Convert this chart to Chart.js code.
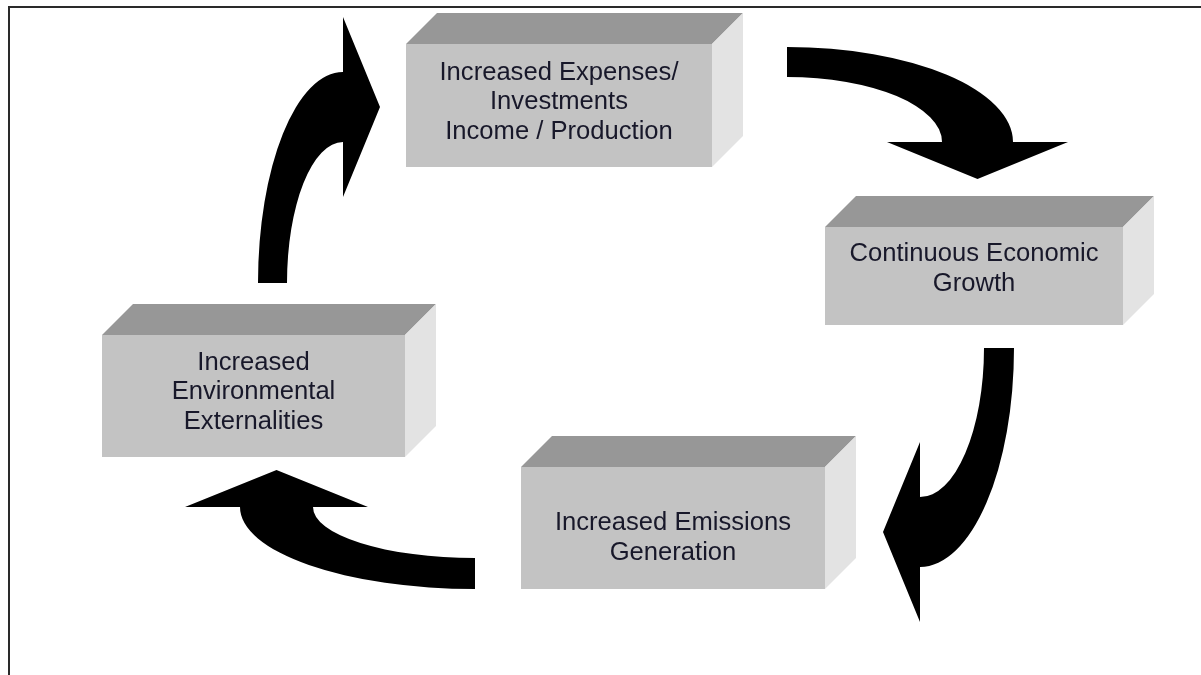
<!DOCTYPE html>
<html>
<head>
<meta charset="utf-8">
<script src="https://cdn.jsdelivr.net/npm/chart.js@4.4.1/dist/chart.umd.min.js"></script>
<style>
  html, body { margin: 0; padding: 0; background: #fff; }
  #wrap { width: 1201px; height: 675px; position: relative; }
</style>
</head>
<body>
<div id="wrap"><canvas id="cycleChart"></canvas></div>
<script>
// Stages of the cycle (label lines)
const stageLabels = [
    ['Increased Expenses/', 'Investments', 'Income / Production'],
    ['Continuous Economic', 'Growth'],
    ['Increased Emissions', 'Generation'],
    ['Increased', 'Environmental', 'Externalities']
];
// front face of each block, in the diagram's own units (0..1201 x 0..675)
const stageX = [559, 974, 673, 253.5];
const stageY = [105.5, 276, 528, 396];
const stageW = [306, 298, 304, 303];
const stageH = [123, 98, 122, 122];
const labelY = [101, 268, 537, 391];

// curved arrows between stages: quarter ellipses, clockwise from the start angle
const arrowCenters = [[343, 283], [787, 142], [920, 348], [475, 507]];
const arrowStartDeg = [180, 270, 0, 90];
const arrowOuterR = [[85, 211], [226, 95], [94, 219], [235, 82]];
const arrowInnerR = [[56, 141], [155, 65], [64, 149], [162, 51]];

const DEPTH = 31;
const HEAD_EXT = 55;
const HEAD_LEN = 37;

const cyclePlugin = {
    id: 'cycleDiagram',
    afterDatasetsDraw(chart) {
        const ctx = chart.ctx;
        const xs = chart.scales.x, ys = chart.scales.y;
        const px = v => xs.getPixelForValue(v);
        const py = v => ys.getPixelForValue(v);

        ctx.save();

        // frame
        ctx.strokeStyle = '#2a2a2a';
        ctx.lineWidth = 2;
        ctx.beginPath();
        ctx.moveTo(px(9), py(675));
        ctx.lineTo(px(9), py(7));
        ctx.lineTo(px(1201), py(7));
        ctx.stroke();

        // arrows
        ctx.fillStyle = '#000';
        arrowCenters.forEach((c, i) => {
            const cx = px(c[0]), cy = py(c[1]);
            const oRx = px(c[0] + arrowOuterR[i][0]) - cx;
            const oRy = py(c[1] + arrowOuterR[i][1]) - cy;
            const iRx = px(c[0] + arrowInnerR[i][0]) - cx;
            const iRy = py(c[1] + arrowInnerR[i][1]) - cy;
            const a0 = arrowStartDeg[i] * Math.PI / 180;
            const a1 = a0 + Math.PI / 2;

            const po = [cx + oRx * Math.cos(a1), cy + oRy * Math.sin(a1)];
            const pi = [cx + iRx * Math.cos(a1), cy + iRy * Math.sin(a1)];
            let n = [po[0] - pi[0], po[1] - pi[1]];
            const nl = Math.hypot(n[0], n[1]);
            n = [n[0] / nl, n[1] / nl];
            const d = [-Math.sin(a1), Math.cos(a1)];
            const mid = [(po[0] + pi[0]) / 2, (po[1] + pi[1]) / 2];

            ctx.beginPath();
            ctx.ellipse(cx, cy, oRx, oRy, 0, a0, a1, false);
            ctx.lineTo(po[0] + n[0] * HEAD_EXT, po[1] + n[1] * HEAD_EXT);
            ctx.lineTo(mid[0] + d[0] * HEAD_LEN, mid[1] + d[1] * HEAD_LEN);
            ctx.lineTo(pi[0] - n[0] * HEAD_EXT, pi[1] - n[1] * HEAD_EXT);
            ctx.lineTo(pi[0], pi[1]);
            ctx.ellipse(cx, cy, iRx, iRy, 0, a1, a0, true);
            ctx.closePath();
            ctx.fill();
        });

        // 3D blocks
        stageLabels.forEach((lines, i) => {
            const l = px(stageX[i] - stageW[i] / 2), r = px(stageX[i] + stageW[i] / 2);
            const t = py(stageY[i] - stageH[i] / 2), b = py(stageY[i] + stageH[i] / 2);

            // top face
            ctx.fillStyle = '#979797';
            ctx.beginPath();
            ctx.moveTo(l, t);
            ctx.lineTo(l + DEPTH, t - DEPTH);
            ctx.lineTo(r + DEPTH, t - DEPTH);
            ctx.lineTo(r, t);
            ctx.closePath();
            ctx.fill();

            // side face
            ctx.fillStyle = '#e3e3e3';
            ctx.beginPath();
            ctx.moveTo(r, t);
            ctx.lineTo(r + DEPTH, t - DEPTH);
            ctx.lineTo(r + DEPTH, b - DEPTH);
            ctx.lineTo(r, b);
            ctx.closePath();
            ctx.fill();

            // front face
            ctx.fillStyle = '#c3c3c3';
            ctx.fillRect(l, t, r - l, b - t);

            // label
            ctx.fillStyle = '#18182a';
            ctx.font = '25.6px "Liberation Sans", Arial, sans-serif';
            ctx.textAlign = 'center';
            ctx.textBaseline = 'middle';
            const lh = 29.5;
            const y0 = py(labelY[i]) - (lines.length - 1) * lh / 2;
            lines.forEach((s, k) => ctx.fillText(s, px(stageX[i]), y0 + k * lh + 1));
        });

        ctx.restore();
    }
};

new Chart(document.getElementById('cycleChart'), {
    type: 'scatter',
    data: {
        datasets: [{
            label: 'Stages',
            data: stageX.map((x, i) => ({ x: x, y: stageY[i] })),
            pointRadius: 0,
            showLine: false
        }]
    },
    options: {
        responsive: true,
        maintainAspectRatio: false,
        animation: false,
        layout: { padding: 0 },
        plugins: { legend: { display: false }, tooltip: { enabled: false } },
        scales: {
            x: { type: 'linear', min: 0, max: 1201, display: false },
            y: { type: 'linear', min: 0, max: 675, reverse: true, display: false }
        }
    },
    plugins: [cyclePlugin]
});
</script>
</body>
</html>
